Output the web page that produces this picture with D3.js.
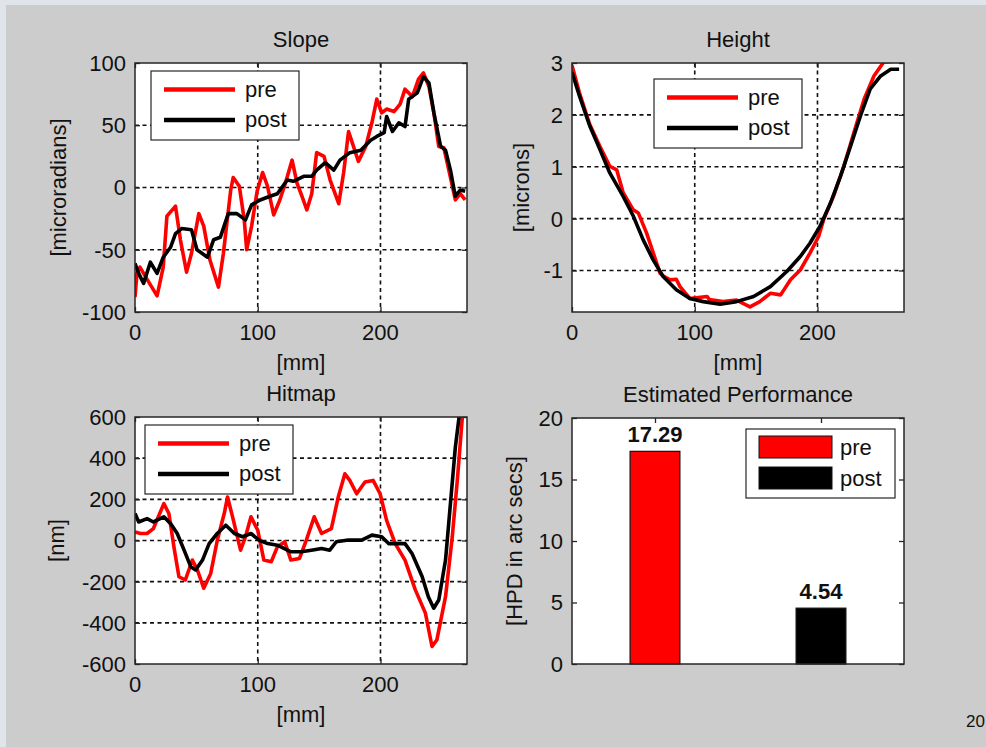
<!DOCTYPE html>
<html>
<head>
<meta charset="utf-8">
<script src="https://cdn.jsdelivr.net/npm/d3@7"></script>
<style>
  html, body { margin: 0; padding: 0; background: #cccccc; }
  svg { display: block; font-family: Arial, "Liberation Sans", sans-serif; }
</style>
</head>
<body>
<svg id="chart" width="986" height="747"></svg>
<script>
// ---------------- DATA ----------------
const seriesNames = ["pre", "post"];
const seriesColors = ["#ff0000", "#000000"];

// Slope [microradians] vs [mm]
const slopePreX  = [0,1.6,4,10,18,23,26,33,37,42,46,52,56,61,68,72,78,80,85,89,91,95,99.5,104,108,113,118,122.5,128,132,136,140,144,148,154,159,166,170,174,178,182,188,193,197,201,205,211,216,220,226,231,235,239.5,243.5,247.5,251.6,255.7,261,265,269];
const slopePreY  = [-88,-69,-64,-74,-87,-64,-23,-15,-42,-68,-53,-21,-31,-58,-80,-53,-2,8,1,-26,-50,-31,-3,12,1,-22,-10,3.5,22,3.5,-7,-18,-5,28,25,6,-13,12,45,33,21,33,52,71,60,63,61,67,79,73,87,92,81,60,33,32,14,-10,-5,-10];
const slopePostX = [0,3,7,12.5,18,23,29,33,38,46,50.5,59,64,69.5,76,83,90,95,102,110,116,124,129,137.5,144,148,155,162,167,175,184,192,197,203,205,209.8,215,220,223,230,235,239.5,243.5,249,253,257,261,265,269];
const slopePostY = [-61,-69,-77,-60,-69,-56,-48,-37,-33,-34,-50,-56,-42,-40,-21,-21,-26,-14,-10,-7,-5,6,5,9,9,14,20,14,22,28,30,38,41,44,57,45,52,49,71,76,89,84,60,33,30,14,-7,-2,-3];

// Height [microns] vs [mm]
const heightPreX  = [0,6,14.4,22.6,30.8,36.4,41.7,49.9,54,60.8,71.7,74.4,80,85,88,96,110,112,123,134,145,153,161.6,170,178,186,194,201,205,213,221.5,229.7,238,246,254,265];
const heightPreY  = [2.95,2.43,1.82,1.4,1.01,0.94,0.5,0.17,0.11,-0.28,-1.05,-1.11,-1.18,-1.17,-1.31,-1.54,-1.5,-1.56,-1.6,-1.57,-1.7,-1.6,-1.44,-1.47,-1.18,-0.99,-0.66,-0.34,-0.02,0.43,1.01,1.66,2.3,2.75,3.02,3.04];
const heightPostX = [0,6,14.4,22.6,30.8,41.7,49.9,58,66,74.4,85,96,107,120.7,134,148,161.6,175,186,194,202,210.6,218.8,227,235,243,251.5,259.7,266.5];
const heightPostY = [2.82,2.37,1.79,1.34,0.88,0.43,0.05,-0.41,-0.79,-1.12,-1.37,-1.54,-1.6,-1.65,-1.6,-1.5,-1.31,-1.02,-0.73,-0.47,-0.15,0.3,0.82,1.4,1.98,2.5,2.75,2.88,2.88];

// Hitmap [nm] vs [mm]
const hitPreX  = [0,4.4,9.8,15,23.5,27.6,31.7,35.8,41,46.7,50.8,56,61.7,67,72.7,75.4,79.5,86,90,94.5,100,105,111,116,122,127,134,139.6,146,152,160,165.6,171,175,180.6,187.4,194,199.7,205,212,220,228.4,236.6,242,246,253,258.5,262.6,266.7,268.5];
const hitPreY  = [42,34,34,58,179,131,-31,-176,-192,-95,-143,-232,-160,0,131,211,115,-47,18,115,50,-95,-103,-31,-6,-95,-87,2,115,34,58,211,324,292,227,284,292,227,98,-15,-95,-240,-353,-515,-482,-273,18,292,598,700];
const hitPostX = [0,3,9.8,15,23.5,29,34.4,40,45.4,49.4,55,60.4,67,74,81,87.7,94.5,101,108,116,127,135.5,143.7,152,158.7,164,173.8,184.7,193,201,206.6,220,225.7,234,239,243.4,247.5,253,257,261,264,266];
const hitPostY = [131,90,106,90,115,82,34,-47,-127,-143,-95,-15,34,74,34,18,34,2,-15,-23,-55,-55,-47,-39,-47,-6,2,2,26,18,-15,-15,-63,-176,-273,-329,-289,-95,179,453,598,700];

// Estimated Performance [HPD in arc secs]
const perfCategories = [1, 2];
const perfValues = [17.29, 4.54];
const perfLabels = ["17.29", "4.54"];

// Tick values
const mmTicks = [0, 100, 200];
const slopeTicks = [-100, -50, 0, 50, 100];
const heightTicks = [-1, 0, 1, 2, 3];
const hitTicks = [-600, -400, -200, 0, 200, 400, 600];
const perfTicks = [0, 5, 10, 15, 20];

// ---------------- DRAWING ----------------
const svg = d3.select("#chart");
const FONT = 22;
const AXIS_COLOR = "#262626";
const TEXT_COLOR = "#111111";

// slide frame strips
svg.append("rect").attr("x", 0).attr("y", 0).attr("width", 986).attr("height", 5).attr("fill", "#dfe5ea");
svg.append("rect").attr("x", 0).attr("y", 0).attr("width", 6).attr("height", 747).attr("fill", "#dfe5ea");

function zip(xs, ys) { return xs.map((x, i) => [x, ys[i]]); }

function panel(cfg) {
  const g = svg.append("g");
  const x = d3.scaleLinear().domain(cfg.xDomain).range([cfg.left, cfg.right]);
  const y = d3.scaleLinear().domain(cfg.yDomain).range([cfg.bottom, cfg.top]);
  const w = cfg.right - cfg.left, h = cfg.bottom - cfg.top;

  g.append("rect").attr("x", cfg.left).attr("y", cfg.top).attr("width", w).attr("height", h).attr("fill", "#ffffff");

  // grid
  if (cfg.grid) {
    const gg = g.append("g").attr("stroke", "#111111").attr("stroke-width", 1.6).attr("stroke-dasharray", "4,3.5");
    cfg.xTicks.filter(t => x(t) > cfg.left + 1 && x(t) < cfg.right - 1).forEach(t => {
      gg.append("line").attr("x1", x(t)).attr("x2", x(t)).attr("y1", cfg.top).attr("y2", cfg.bottom);
    });
    cfg.yTicks.filter(t => y(t) > cfg.top + 1 && y(t) < cfg.bottom - 1).forEach(t => {
      gg.append("line").attr("x1", cfg.left).attr("x2", cfg.right).attr("y1", y(t)).attr("y2", y(t));
    });
  }

  // inward ticks via d3 axes
  const tickLen = 5;
  const axL = g.append("g").attr("transform", `translate(${cfg.left},0)`)
    .call(d3.axisRight(y).tickValues(cfg.yTicks).tickSize(tickLen).tickFormat(""));
  const axR = g.append("g").attr("transform", `translate(${cfg.right},0)`)
    .call(d3.axisLeft(y).tickValues(cfg.yTicks).tickSize(tickLen).tickFormat(""));
  const axB = g.append("g").attr("transform", `translate(0,${cfg.bottom})`)
    .call(d3.axisTop(x).tickValues(cfg.xTicks).tickSize(tickLen).tickFormat(""));
  const axT = g.append("g").attr("transform", `translate(0,${cfg.top})`)
    .call(d3.axisBottom(x).tickValues(cfg.xTicks).tickSize(tickLen).tickFormat(""));
  [axL, axR, axB, axT].forEach(a => {
    a.select(".domain").remove();
    a.selectAll("line").attr("stroke", AXIS_COLOR).attr("stroke-width", 1.3);
  });

  // tick labels (hyphen-minus as in the original)
  cfg.yTicks.forEach(t => {
    g.append("text").attr("x", cfg.left - 9).attr("y", y(t)).attr("dy", "0.36em")
      .attr("text-anchor", "end").attr("font-size", FONT).attr("fill", TEXT_COLOR).text(String(t));
  });
  if (cfg.xLabels) {
    cfg.xTicks.forEach(t => {
      g.append("text").attr("x", x(t)).attr("y", cfg.bottom + 28)
        .attr("text-anchor", "middle").attr("font-size", FONT).attr("fill", TEXT_COLOR).text(String(t));
    });
  }

  // titles & labels
  g.append("text").attr("x", (cfg.left + cfg.right) / 2).attr("y", cfg.top - 16)
    .attr("text-anchor", "middle").attr("font-size", FONT).attr("fill", TEXT_COLOR).text(cfg.title);
  if (cfg.xTitle) {
    g.append("text").attr("x", (cfg.left + cfg.right) / 2).attr("y", cfg.bottom + 58)
      .attr("text-anchor", "middle").attr("font-size", FONT).attr("fill", TEXT_COLOR).text(cfg.xTitle);
  }
  g.append("text").attr("transform", `translate(${cfg.left - cfg.yTitleOffset},${(cfg.top + cfg.bottom) / 2}) rotate(-90)`)
    .attr("text-anchor", "middle").attr("dy", "0.35em").attr("font-size", FONT).attr("fill", TEXT_COLOR).text(cfg.yTitle);

  return { g, x, y, w, h };
}

function finishBox(p, cfg) {
  p.g.append("rect").attr("x", cfg.left).attr("y", cfg.top).attr("width", p.w).attr("height", p.h)
    .attr("fill", "none").attr("stroke", AXIS_COLOR).attr("stroke-width", 1.5);
}

function lineLegend(g, bx, by) {
  const lg = g.append("g");
  lg.append("rect").attr("x", bx).attr("y", by).attr("width", 148).attr("height", 69)
    .attr("fill", "#ffffff").attr("stroke", AXIS_COLOR).attr("stroke-width", 1.2);
  seriesNames.forEach((n, i) => {
    const yy = by + 18.5 + i * 30.5;
    lg.append("line").attr("x1", bx + 13).attr("x2", bx + 84).attr("y1", yy).attr("y2", yy)
      .attr("stroke", seriesColors[i]).attr("stroke-width", 4.5);
    lg.append("text").attr("x", bx + 94).attr("y", yy).attr("dy", "0.33em")
      .attr("font-size", FONT).attr("fill", TEXT_COLOR).text(n);
  });
}

let clipId = 0;
function linePanel(cfg, series, legendPos) {
  const p = panel(cfg);
  const id = "clip" + (clipId++);
  svg.append("clipPath").attr("id", id).append("rect")
    .attr("x", cfg.left).attr("y", cfg.top).attr("width", p.w).attr("height", p.h);
  const line = d3.line().x(d => p.x(d[0])).y(d => p.y(d[1]));
  const lg = p.g.append("g").attr("clip-path", `url(#${id})`);
  series.forEach((s, i) => {
    lg.append("path").datum(s).attr("d", line).attr("fill", "none")
      .attr("stroke", seriesColors[i]).attr("stroke-width", 3.6).attr("stroke-linejoin", "round");
  });
  finishBox(p, cfg);
  lineLegend(p.g, cfg.left + legendPos[0], cfg.top + legendPos[1]);
}

// Slope
linePanel({
  left: 135, top: 63, right: 467, bottom: 312,
  xDomain: [0, 270.5], yDomain: [-100, 100],
  xTicks: mmTicks, yTicks: slopeTicks, grid: true, xLabels: true,
  title: "Slope", xTitle: "[mm]", yTitle: "[microradians]", yTitleOffset: 77
}, [zip(slopePreX, slopePreY), zip(slopePostX, slopePostY)], [16, 8]);

// Height
linePanel({
  left: 572, top: 63, right: 904, bottom: 312,
  xDomain: [0, 270.5], yDomain: [-1.8, 3],
  xTicks: mmTicks, yTicks: heightTicks, grid: true, xLabels: true,
  title: "Height", xTitle: "[mm]", yTitle: "[microns]", yTitleOffset: 51
}, [zip(heightPreX, heightPreY), zip(heightPostX, heightPostY)], [82, 16]);

// Hitmap
linePanel({
  left: 135, top: 417, right: 467, bottom: 664,
  xDomain: [0, 270.5], yDomain: [-600, 600],
  xTicks: mmTicks, yTicks: hitTicks, grid: true, xLabels: true,
  title: "Hitmap", xTitle: "[mm]", yTitle: "[nm]", yTitleOffset: 79
}, [zip(hitPreX, hitPreY), zip(hitPostX, hitPostY)], [10, 8]);

// Estimated Performance (bar chart)
(function () {
  const cfg = {
    left: 572, top: 418, right: 904, bottom: 664,
    xDomain: [0.5, 2.5], yDomain: [0, 20],
    xTicks: perfCategories, yTicks: perfTicks, grid: false, xLabels: false,
    title: "Estimated Performance", xTitle: null, yTitle: "[HPD in arc secs]", yTitleOffset: 58
  };
  const p = panel(cfg);
  const bw = 0.3;
  perfCategories.forEach((c, i) => {
    const x0 = p.x(c - bw / 2), x1 = p.x(c + bw / 2);
    p.g.append("rect").attr("x", x0).attr("y", p.y(perfValues[i]))
      .attr("width", x1 - x0).attr("height", p.y(0) - p.y(perfValues[i]))
      .attr("fill", seriesColors[i]).attr("stroke", "#111").attr("stroke-width", 1.2);
    p.g.append("text").attr("x", p.x(c)).attr("y", p.y(perfValues[i]) - 9)
      .attr("text-anchor", "middle").attr("font-size", FONT).attr("font-weight", "bold")
      .attr("fill", "#111").text(perfLabels[i]);
  });
  finishBox(p, cfg);
  // legend with patches
  const bx = cfg.left + 174, by = cfg.top + 11;
  const lg = p.g.append("g");
  lg.append("rect").attr("x", bx).attr("y", by).attr("width", 149).attr("height", 69)
    .attr("fill", "#ffffff").attr("stroke", AXIS_COLOR).attr("stroke-width", 1.2);
  seriesNames.forEach((n, i) => {
    const py = by + 7 + i * 31;
    lg.append("rect").attr("x", bx + 13).attr("y", py).attr("width", 73).attr("height", 22)
      .attr("fill", seriesColors[i]).attr("stroke", "#111").attr("stroke-width", 1);
    lg.append("text").attr("x", bx + 94).attr("y", py + 11).attr("dy", "0.35em")
      .attr("font-size", FONT).attr("fill", TEXT_COLOR).text(n);
  });
})();

// text at bottom right (cut off in the original slide)
svg.append("text").attr("x", 966).attr("y", 727).attr("font-size", 17).attr("fill", "#111").text("20");
</script>
</body>
</html>
